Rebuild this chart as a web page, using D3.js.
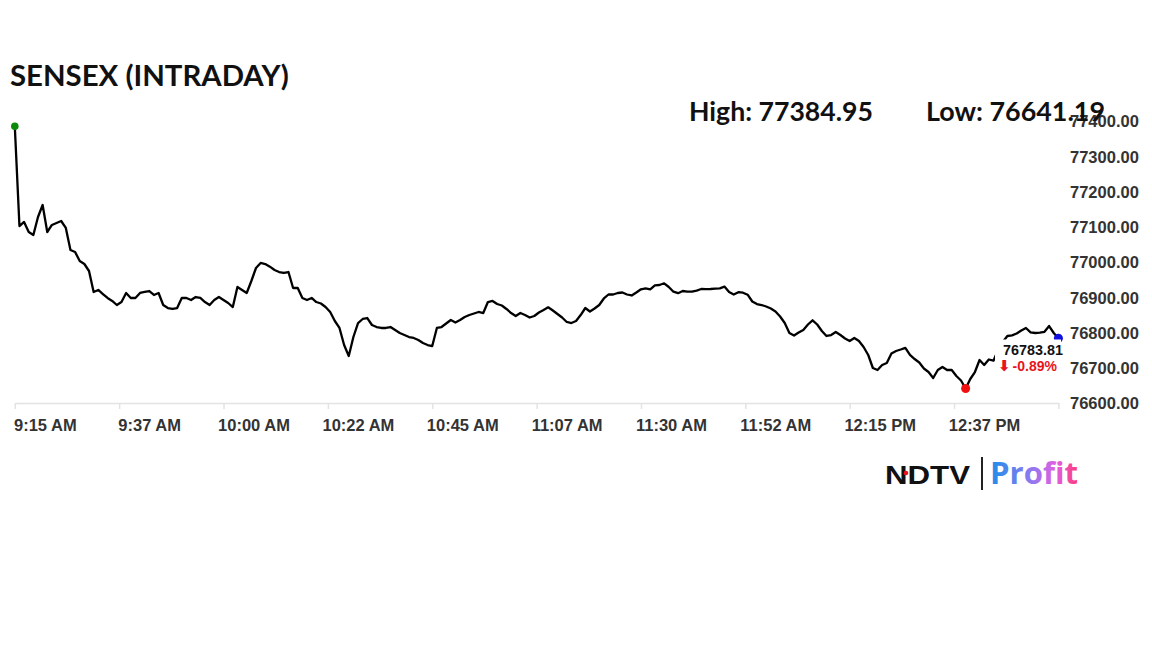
<!DOCTYPE html>
<html><head><meta charset="utf-8">
<script src="https://cdn.jsdelivr.net/npm/d3@7"></script>
<style>html,body{margin:0;padding:0;background:#fff;} svg{display:block;}</style>
</head><body><svg id="c" width="1152" height="648"></svg>
<script>
// ---------- data ----------
const chartTitle = "SENSEX (INTRADAY)";
const sessionStart = "09:15";          // one price per minute from here
const prices = [
77384.95,77102.1,77113.5,77085.1,77076.6,77127.7,77161.7,77085.1,77105.0,77110.6,
77116.3,77096.5,77034.0,77028.4,77002.8,76994.3,76974.5,76914.9,76920.6,76909.2,
76897.9,76889.4,76878.0,76886.5,76912.1,76897.9,76897.9,76912.1,76914.9,76917.7,
76906.4,76912.1,76878.0,76869.5,76866.7,76869.5,76897.9,76897.9,76892.2,76900.7,
76897.9,76886.5,76878.0,76892.2,76900.7,76892.2,76883.7,76872.3,76929.1,76920.6,
76912.1,76946.1,76983.0,76997.2,76994.3,76986.7,76977.3,76971.6,76968.8,76971.6,
76926.2,76926.2,76897.9,76892.2,76897.9,76886.5,76882.3,76872.3,76858.2,76832.6,
76812.8,76764.5,76733.3,76787.2,76826.9,76838.3,76841.1,76821.3,76815.6,76812.8,
76812.8,76815.6,76807.1,76798.6,76792.9,76787.2,76784.4,76778.7,76770.2,76764.5,
76761.7,76812.8,76815.6,76825.5,76835.5,76828.4,76835.5,76844.0,76849.6,76853.9,
76858.2,76855.3,76886.5,76889.4,76880.8,76876.6,76866.7,76855.3,76846.8,76855.3,
76849.6,76842.5,76846.8,76856.7,76863.8,76871.5,76862.4,76852.5,76842.5,76829.8,
76826.9,76832.6,76849.6,76869.5,76859.6,76868.1,76878.0,76896.5,76907.8,76907.8,
76912.1,76913.5,76907.8,76905.0,76913.5,76922.5,76925.1,76922.5,76933.9,76934.7,
76939.6,76929.1,76915.7,76911.5,76917.7,76916.0,76915.7,76918.9,76923.4,76922.8,
76923.4,76924.3,76925.4,76930.2,76914.9,76907.8,76914.3,76912.9,76907.2,76887.9,
76880.8,76878.0,76873.8,76868.1,76859.6,76845.4,76826.9,76798.6,76791.5,76800.0,
76807.1,76822.7,76834.6,76822.7,76804.3,76790.1,76792.9,76801.4,76792.9,76783.0,
76775.9,76784.4,76775.9,76758.9,76736.2,76699.3,76693.6,76707.8,76713.5,76740.4,
76747.5,76751.8,76756.6,76736.2,76724.8,76714.9,76697.9,76687.9,76670.9,76693.6,
76702.1,76693.6,76693.6,76676.6,76663.8,76641.19,76668.1,76687.9,76722.0,76707.8,
76723.4,76720.0,76750.3,76773.0,76790.1,76792.0,76797.2,76805.7,76812.8,76800.6,
76798.6,76799.4,76802.0,76818.4,76798.6,76783.81
];
const xTickTimes  = ["09:15:00","09:37:30","10:00:00","10:22:30","10:45:00","11:07:30",
                     "11:30:00","11:52:30","12:15:00","12:37:30","13:00:00"];
const xTickLabels = ["9:15 AM","9:37 AM","10:00 AM","10:22 AM","10:45 AM","11:07 AM",
                     "11:30 AM","11:52 AM","12:15 PM","12:37 PM",""];
const yTickValues = [76600,76700,76800,76900,77000,77100,77200,77300,77400];
const yDomain = [76600, 77400];
const changePct = "-0.89%";

// ---------- setup ----------
const parseT = d3.timeParse("%H:%M:%S");
const t0 = parseT(sessionStart + ":00");
const times = prices.map((_, i) => d3.timeMinute.offset(t0, i));
const tickDates = xTickTimes.map(parseT);

const svg = d3.select("#c");
const x = d3.scaleTime().domain([tickDates[0], tickDates[tickDates.length-1]]).range([14.8, 1058.4]);
const y = d3.scaleLinear().domain(yDomain).range([403, 121]);

function fitWidth(sel, w) {
  const cur = sel.node().getComputedTextLength();
  const fs = parseFloat(sel.attr("font-size"));
  sel.attr("font-size", (fs * w / cur).toFixed(2));
}

// title
const tt = svg.append("text").attr("x", 10).attr("y", 86)
  .attr("font-family", "Lato, 'Open Sans', sans-serif").attr("font-weight", 700)
  .attr("font-size", 27).attr("fill", "#111").text(chartTitle);
fitWidth(tt, 279);

// x axis
const xAxis = d3.axisBottom(x).tickValues(tickDates).tickSize(6).tickSizeOuter(0)
  .tickFormat((d, i) => xTickLabels[i]);
const gx = svg.append("g").attr("transform", "translate(0,403)").call(xAxis);
gx.select(".domain").attr("stroke", "#e3e3e3").attr("stroke-width", 1.5);
gx.selectAll(".tick line").attr("stroke", "#e3e3e3").attr("stroke-width", 1.5);
gx.selectAll(".tick text").attr("x", 30).attr("y", 28).attr("dy", 0)
  .attr("font-family", "'Liberation Sans', Arial, sans-serif").attr("font-weight", 700)
  .attr("font-size", 16.5).attr("fill", "#333");

// y axis (right)
const yAxis = d3.axisRight(y).tickValues(yTickValues).tickSize(0).tickPadding(8)
  .tickFormat(d3.format(".2f"));
const gy = svg.append("g").attr("transform", "translate(1062,0)").call(yAxis);
gy.select(".domain").remove();
gy.selectAll(".tick text").attr("dy", "0.35em")
  .attr("font-family", "'Liberation Sans', Arial, sans-serif").attr("font-weight", 700)
  .attr("font-size", 16.5).attr("fill", "#333");

// line
const line = d3.line().x((d, i) => x(times[i])).y(d => y(d));
svg.append("path").datum(prices).attr("d", line)
  .attr("fill", "none").attr("stroke", "#000").attr("stroke-width", 2.3)
  .attr("stroke-linejoin", "round");

// markers
const hi = d3.max(prices), lo = d3.min(prices);
const iHi = prices.indexOf(hi), iLo = prices.indexOf(lo), iEnd = prices.length - 1;
svg.append("circle").attr("cx", x(times[iHi])).attr("cy", y(hi)).attr("r", 3.8).attr("fill", "#0a8a0a");
svg.append("circle").attr("cx", x(times[iLo])).attr("cy", y(lo)).attr("r", 4.5).attr("fill", "#f01010");
svg.append("circle").attr("cx", x(times[iEnd])).attr("cy", y(prices[iEnd])).attr("r", 4.5).attr("fill", "#1010e0");

// end label box
svg.append("rect").attr("x", 995).attr("y", 339.5).attr("width", 66).attr("height", 36).attr("fill", "#fff");
const lv = svg.append("text").attr("x", 1003).attr("y", 355)
  .attr("font-family", "'Liberation Sans', Arial, sans-serif").attr("font-weight", 700)
  .attr("font-size", 15).attr("fill", "#111").text(d3.format(".2f")(prices[iEnd]));
fitWidth(lv, 60);
const lc = svg.append("text").attr("x", 998).attr("y", 371)
  .attr("font-family", "'Liberation Sans', Arial, sans-serif").attr("font-weight", 700)
  .attr("font-size", 14).attr("fill", "#e8141b");
lc.append("tspan").attr("font-family", "'DejaVu Sans', sans-serif").attr("font-size", 15).text("\u2B07");
lc.append("tspan").attr("dx", 2).text(changePct);

// high / low
const ht = svg.append("text").attr("x", 689).attr("y", 121)
  .attr("font-family", "Lato, 'Open Sans', sans-serif").attr("font-weight", 700)
  .attr("font-size", 24).attr("fill", "#111").text("High: " + d3.format(".2f")(hi));
fitWidth(ht, 184);
const lt = svg.append("text").attr("x", 926).attr("y", 121)
  .attr("font-family", "Lato, 'Open Sans', sans-serif").attr("font-weight", 700)
  .attr("font-size", 24).attr("fill", "#111").text("Low: " + d3.format(".2f")(lo));
fitWidth(lt, 179);

// logo
const defs = svg.append("defs");
const grad = defs.append("linearGradient").attr("id", "pg").attr("gradientUnits", "userSpaceOnUse")
  .attr("x1", 990).attr("x2", 1078).attr("y1", 0).attr("y2", 0);
grad.append("stop").attr("offset", "0%").attr("stop-color", "#1e8fe8");
grad.append("stop").attr("offset", "45%").attr("stop-color", "#8a7af0");
grad.append("stop").attr("offset", "75%").attr("stop-color", "#e060e0");
grad.append("stop").attr("offset", "100%").attr("stop-color", "#ff3a78");
const nd = svg.append("text").attr("x", 885).attr("y", 484)
  .attr("font-family", "'Liberation Sans', Arial, sans-serif").attr("font-weight", 900)
  .attr("font-size", 30).attr("fill", "#111").attr("transform", "translate(885,484) scale(1,0.8) translate(-885,-484)")
  .text("NDTV");
fitWidth(nd, 85);
svg.append("circle").attr("cx", 906).attr("cy", 473).attr("r", 2.3).attr("fill", "#e8141b");
svg.append("rect").attr("x", 981).attr("y", 457).attr("width", 2).attr("height", 33).attr("fill", "#222");
const pf = svg.append("text").attr("x", 990).attr("y", 484)
  .attr("font-family", "'Open Sans', Roboto, sans-serif").attr("font-weight", 700)
  .attr("font-size", 31).attr("fill", "url(#pg)").text("Profit");
fitWidth(pf, 88);
</script></body></html>
